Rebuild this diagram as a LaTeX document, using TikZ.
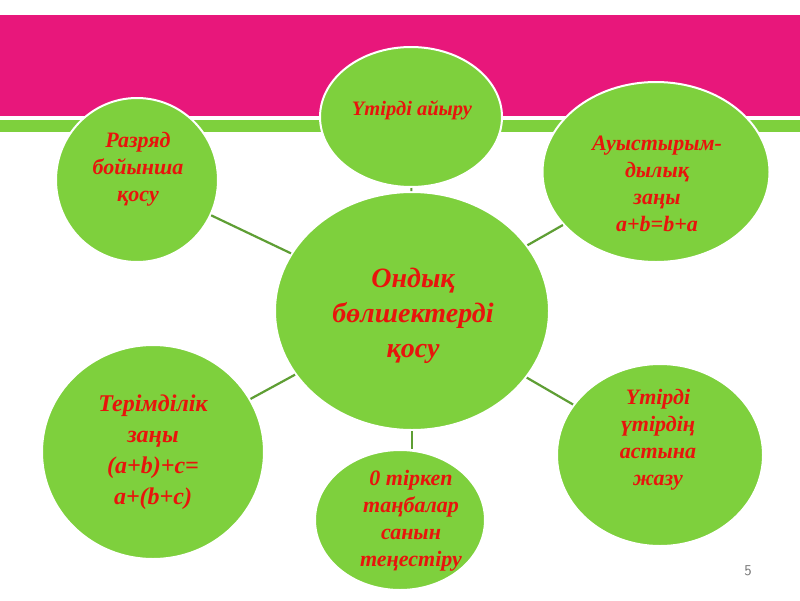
\documentclass[tikz,border=0pt]{standalone}
\usepackage{fontspec}
\setmainfont{Liberation Serif}
\usetikzlibrary{shapes.geometric}
\definecolor{pinkband}{HTML}{E8177B}
\definecolor{leaf}{HTML}{7ED03D}
\definecolor{stem}{HTML}{5E9E34}
\definecolor{txtred}{HTML}{E8140C}
\tikzset{
  bubble/.style={ellipse, fill=leaf, draw=white, line width=2pt, inner sep=0pt},
  label22/.style={align=center, text=txtred, inner sep=0pt, font=\fontsize{22}{27}\selectfont\bfseries\itshape},
  conn/.style={draw=stem, line width=2.2pt}
}
\begin{document}
\begin{tikzpicture}[x=1pt,y=-1pt]
\useasboundingbox (0,0) rectangle (800,600);
\fill[white] (0,0) rectangle (800,600);
\fill[pinkband] (0,15) rectangle (800,116);
\fill[leaf] (0,120) rectangle (800,132);
% bubbles
\node[bubble, minimum width=274pt, minimum height=238pt] (c) at (412,311) {};
\node[bubble, minimum width=182pt, minimum height=140pt] (t) at (411,117) {};
\node[bubble, minimum width=162pt, minimum height=164pt] (tl) at (137,180) {};
\node[bubble, minimum width=227pt, minimum height=180pt] (tr) at (656,172) {};
\node[bubble, minimum width=222pt, minimum height=214pt] (bl) at (153,452) {};
\node[bubble, minimum width=170pt, minimum height=140pt] (b) at (400,520) {};
\node[bubble, minimum width=206pt, minimum height=182pt] (br) at (660,455) {};
% connectors
\draw[conn] (c) -- (t);
\draw[conn] (c) -- (tl);
\draw[conn] (c) -- (tr);
\draw[conn] (c) -- (bl);
\draw[conn] (c.south) -- (c.south |- b.north);
\draw[conn] (c) -- (br);
% texts
\node[label22, font=\fontsize{28}{35}\selectfont\bfseries\itshape] (ct) at (413,316) {Ондық\\бөлшектерді\\қосу};
\node[label22, font=\fontsize{20.5}{24}\selectfont\bfseries\itshape] (tt) at (412,110) {Үтірді айыру};
\node[label22] (tlt) at (138,169) {Разряд\\бойынша\\қосу};
\node[label22] (trt) at (657,184) {Ауыстырым-\\дылық\\заңы\\a+b=b+a};
\node[label22, font=\fontsize{24}{31}\selectfont\bfseries\itshape] (blt) at (153,452) {Терімділік\\заңы\\(a+b)+c=\\a+(b+c)};
\node[label22] (bt) at (411,521) {0 тіркеп\\таңбалар\\санын\\теңестіру};
\node[label22] (brt) at (658,440) {Үтірді\\үтірдің\\астына\\жазу};
\node[text=black!55, font=\sffamily\fontsize{15}{17}\selectfont, inner sep=0pt] (pg) at (748,571) {5};
\end{tikzpicture}
\end{document}
